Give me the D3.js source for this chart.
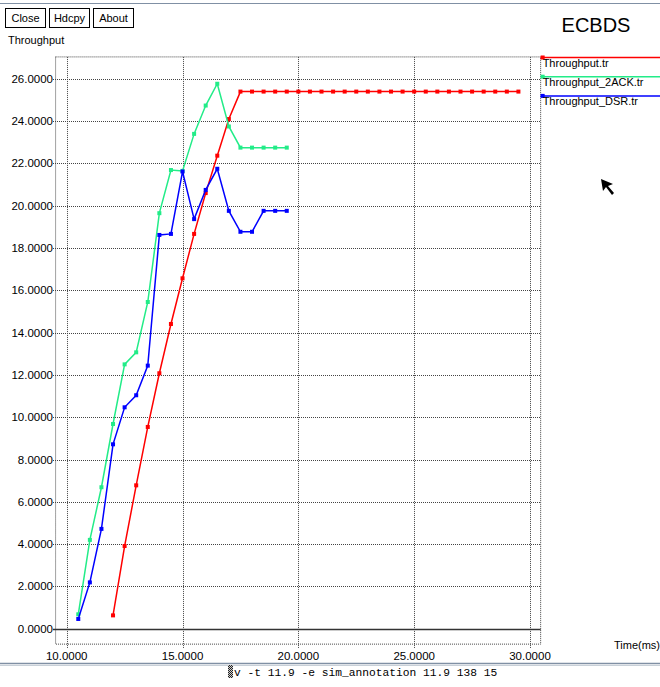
<!DOCTYPE html>
<html>
<head>
<meta charset="utf-8">
<script src="https://cdn.jsdelivr.net/npm/d3@7"></script>
<style>
  body { margin: 0; background: #fff; }
  svg { display: block; }
</style>
</head>
<body>
<div id="chart"></div>
<script>
// data
const seriesNames = ["Throughput.tr", "Throughput_2ACK.tr", "Throughput_DSR.tr"];
const seriesColors = ["#ff0000", "#22ec88", "#0000ff"];

const redTimes = [12, 12.5, 13, 13.5, 14, 14.5, 15, 15.5, 16, 16.5, 17, 17.5, 18, 18.5, 19, 19.5,
    20, 20.5, 21, 21.5, 22, 22.5, 23, 23.5, 24, 24.5, 25, 25.5, 26, 26.5, 27, 27.5, 28, 28.5, 29, 29.5];
const redValues = [0.63, 3.91, 6.78, 9.54, 12.08, 14.41, 16.57, 18.67, 20.6, 22.37, 24.1, 25.4,
    25.4, 25.4, 25.4, 25.4, 25.4, 25.4, 25.4, 25.4, 25.4, 25.4, 25.4, 25.4, 25.4, 25.4, 25.4, 25.4,
    25.4, 25.4, 25.4, 25.4, 25.4, 25.4, 25.4, 25.4];

const ackTimes = [10.5, 11, 11.5, 12, 12.5, 13, 13.5, 14, 14.5, 15, 15.5, 16, 16.5, 17, 17.5, 18, 18.5, 19, 19.5];
const ackValues = [0.68, 4.2, 6.69, 9.68, 12.5, 13.07, 15.45, 19.65, 21.69, 21.65, 23.4, 24.74, 25.77,
    23.75, 22.75, 22.75, 22.75, 22.75, 22.75];

const dsrTimes = [10.5, 11, 11.5, 12, 12.5, 13, 13.5, 14, 14.5, 15, 15.5, 16, 16.5, 17, 17.5, 18, 18.5, 19, 19.5];
const dsrValues = [0.46, 2.19, 4.72, 8.72, 10.47, 11.04, 12.44, 18.62, 18.67, 21.62, 19.37, 20.75, 21.75,
    19.76, 18.77, 18.77, 19.76, 19.76, 19.76];

const xTicks = [10, 15, 20, 25, 30];
const yTicks = [0, 2, 4, 6, 8, 10, 12, 14, 16, 18, 20, 22, 24, 26];
const buttons = ["Close", "Hdcpy", "About"];

const width = 660, height = 687;
const font = "'Liberation Sans', Arial, sans-serif";

// frame limits in data units (xgraph pads the range)
const frameX = [9.52, 30.46];
const frameY = [-0.73, 27.04];

const x = d3.scaleLinear().domain([10, 30]).range([66.7, 530]);
const y = d3.scaleLinear().domain([0, 26]).range([628.7, 78.9]);

const svg = d3.select("#chart").append("svg")
    .attr("width", width)
    .attr("height", height)
    .style("font-family", font);

// top border
svg.append("line")
    .attr("x1", 0).attr("x2", width)
    .attr("y1", 3.5).attr("y2", 3.5)
    .attr("stroke", "#8090a4");

// buttons
let bx = 5;
buttons.forEach(b => {
    const w = b.length * 6.4 + 8;
    const g = svg.append("g").attr("transform", `translate(${bx},8)`);
    g.append("rect")
        .attr("x", 0.5).attr("y", 0.5)
        .attr("width", w).attr("height", 19)
        .attr("fill", "#fff")
        .attr("stroke", "#000");
    g.append("text")
        .attr("x", w / 2 + 0.5).attr("y", 14)
        .attr("text-anchor", "middle")
        .style("font-size", "11px")
        .text(b);
    bx += w + 4;
});

svg.append("text")
    .attr("x", 8).attr("y", 44)
    .style("font-size", "11px")
    .text("Throughput");

svg.append("text")
    .attr("x", 596).attr("y", 32)
    .attr("text-anchor", "middle")
    .style("font-size", "20px")
    .text("ECBDS");

const fx0 = x(frameX[0]), fx1 = x(frameX[1]);
const fy0 = y(frameY[0]), fy1 = y(frameY[1]);

const grid = svg.append("g")
    .attr("stroke", "#444")
    .attr("stroke-dasharray", "1,1")
    .attr("fill", "none");

// frame
grid.append("rect")
    .attr("x", fx0).attr("y", fy1)
    .attr("width", fx1 - fx0).attr("height", fy0 - fy1);

// horizontal grid
grid.selectAll(".hg")
    .data(yTicks.filter(d => d !== 0))
    .enter()
    .append("line")
    .attr("x1", 53).attr("x2", fx1)
    .attr("y1", d => Math.round(y(d)) + 0.5)
    .attr("y2", d => Math.round(y(d)) + 0.5);

// vertical grid
grid.selectAll(".vg")
    .data(xTicks)
    .enter()
    .append("line")
    .attr("x1", d => Math.round(x(d)) + 0.5)
    .attr("x2", d => Math.round(x(d)) + 0.5)
    .attr("y1", fy1).attr("y2", fy0 + 4);

// zero axis
svg.append("line")
    .attr("x1", 53).attr("x2", fx1)
    .attr("y1", Math.round(y(0)) + 0.5).attr("y2", Math.round(y(0)) + 0.5)
    .attr("stroke", "#333")
    .attr("stroke-width", 1.3);

// tick labels
svg.selectAll(".ylab")
    .data(yTicks)
    .enter()
    .append("text")
    .attr("x", 53)
    .attr("y", d => y(d) + 4)
    .attr("text-anchor", "end")
    .style("font-size", "11.5px")
    .text(d => d.toFixed(4));

svg.selectAll(".xlab")
    .data(xTicks)
    .enter()
    .append("text")
    .attr("x", d => x(d))
    .attr("y", 660)
    .attr("text-anchor", "middle")
    .style("font-size", "11.5px")
    .text(d => d.toFixed(4));

svg.append("text")
    .attr("x", 614).attr("y", 649)
    .style("font-size", "11px")
    .text("Time(ms)");

// series
const series = [
    { name: seriesNames[0], color: seriesColors[0], pts: redTimes.map((t, i) => [t, redValues[i]]) },
    { name: seriesNames[1], color: seriesColors[1], pts: ackTimes.map((t, i) => [t, ackValues[i]]) },
    { name: seriesNames[2], color: seriesColors[2], pts: dsrTimes.map((t, i) => [t, dsrValues[i]]) }
];

const line = d3.line().x(d => x(d[0])).y(d => y(d[1]));

series.forEach(s => {
    svg.append("path")
        .datum(s.pts)
        .attr("d", line)
        .attr("fill", "none")
        .attr("stroke", s.color)
        .attr("stroke-width", 1.5);
    svg.selectAll(null)
        .data(s.pts)
        .enter()
        .append("rect")
        .attr("x", d => x(d[0]) - 2)
        .attr("y", d => y(d[1]) - 2)
        .attr("width", 4)
        .attr("height", 4)
        .attr("fill", s.color);
});

// legend
series.forEach((s, i) => {
    const ly = 57.5 + i * 19.2;
    svg.append("line")
        .attr("x1", fx1).attr("x2", width)
        .attr("y1", ly).attr("y2", ly)
        .attr("stroke", s.color)
        .attr("stroke-width", 1.5);
    svg.append("rect")
        .attr("x", fx1).attr("y", ly - 2)
        .attr("width", 4).attr("height", 4)
        .attr("fill", s.color);
    svg.append("text")
        .attr("x", fx1 + 2).attr("y", ly + 9.5)
        .style("font-size", "11px")
        .text(s.name);
});

// bottom status bar
svg.append("line")
    .attr("x1", 0).attr("x2", width)
    .attr("y1", 663.5).attr("y2", 663.5)
    .attr("stroke", "#8090a4")
    .attr("stroke-width", 1.5);
svg.append("line")
    .attr("x1", 0).attr("x2", width)
    .attr("y1", 665.5).attr("y2", 665.5)
    .attr("stroke", "#c8d0d8");

const hatch = svg.append("defs").append("pattern")
    .attr("id", "hatch")
    .attr("width", 2).attr("height", 2)
    .attr("patternUnits", "userSpaceOnUse");
hatch.append("rect").attr("width", 2).attr("height", 2).attr("fill", "#ccc");
hatch.append("rect").attr("width", 1).attr("height", 1).attr("fill", "#222");
hatch.append("rect").attr("x", 1).attr("y", 1).attr("width", 1).attr("height", 1).attr("fill", "#222");

svg.append("rect")
    .attr("x", 228).attr("y", 665)
    .attr("width", 5).attr("height", 13)
    .attr("fill", "url(#hatch)");

svg.append("text")
    .attr("x", 234).attr("y", 676)
    .style("font-family", "'Liberation Mono', 'DejaVu Sans Mono', monospace")
    .style("font-size", "11.25px")
    .text("v -t 11.9 -e sim_annotation 11.9 138 15");

// mouse pointer left in the screenshot
svg.append("path")
    .attr("d", "M601,179 L603,191 L606,187 L612,195 L614,193 L608,186 L613,184 Z")
    .attr("fill", "#000");
</script>
</body>
</html>
